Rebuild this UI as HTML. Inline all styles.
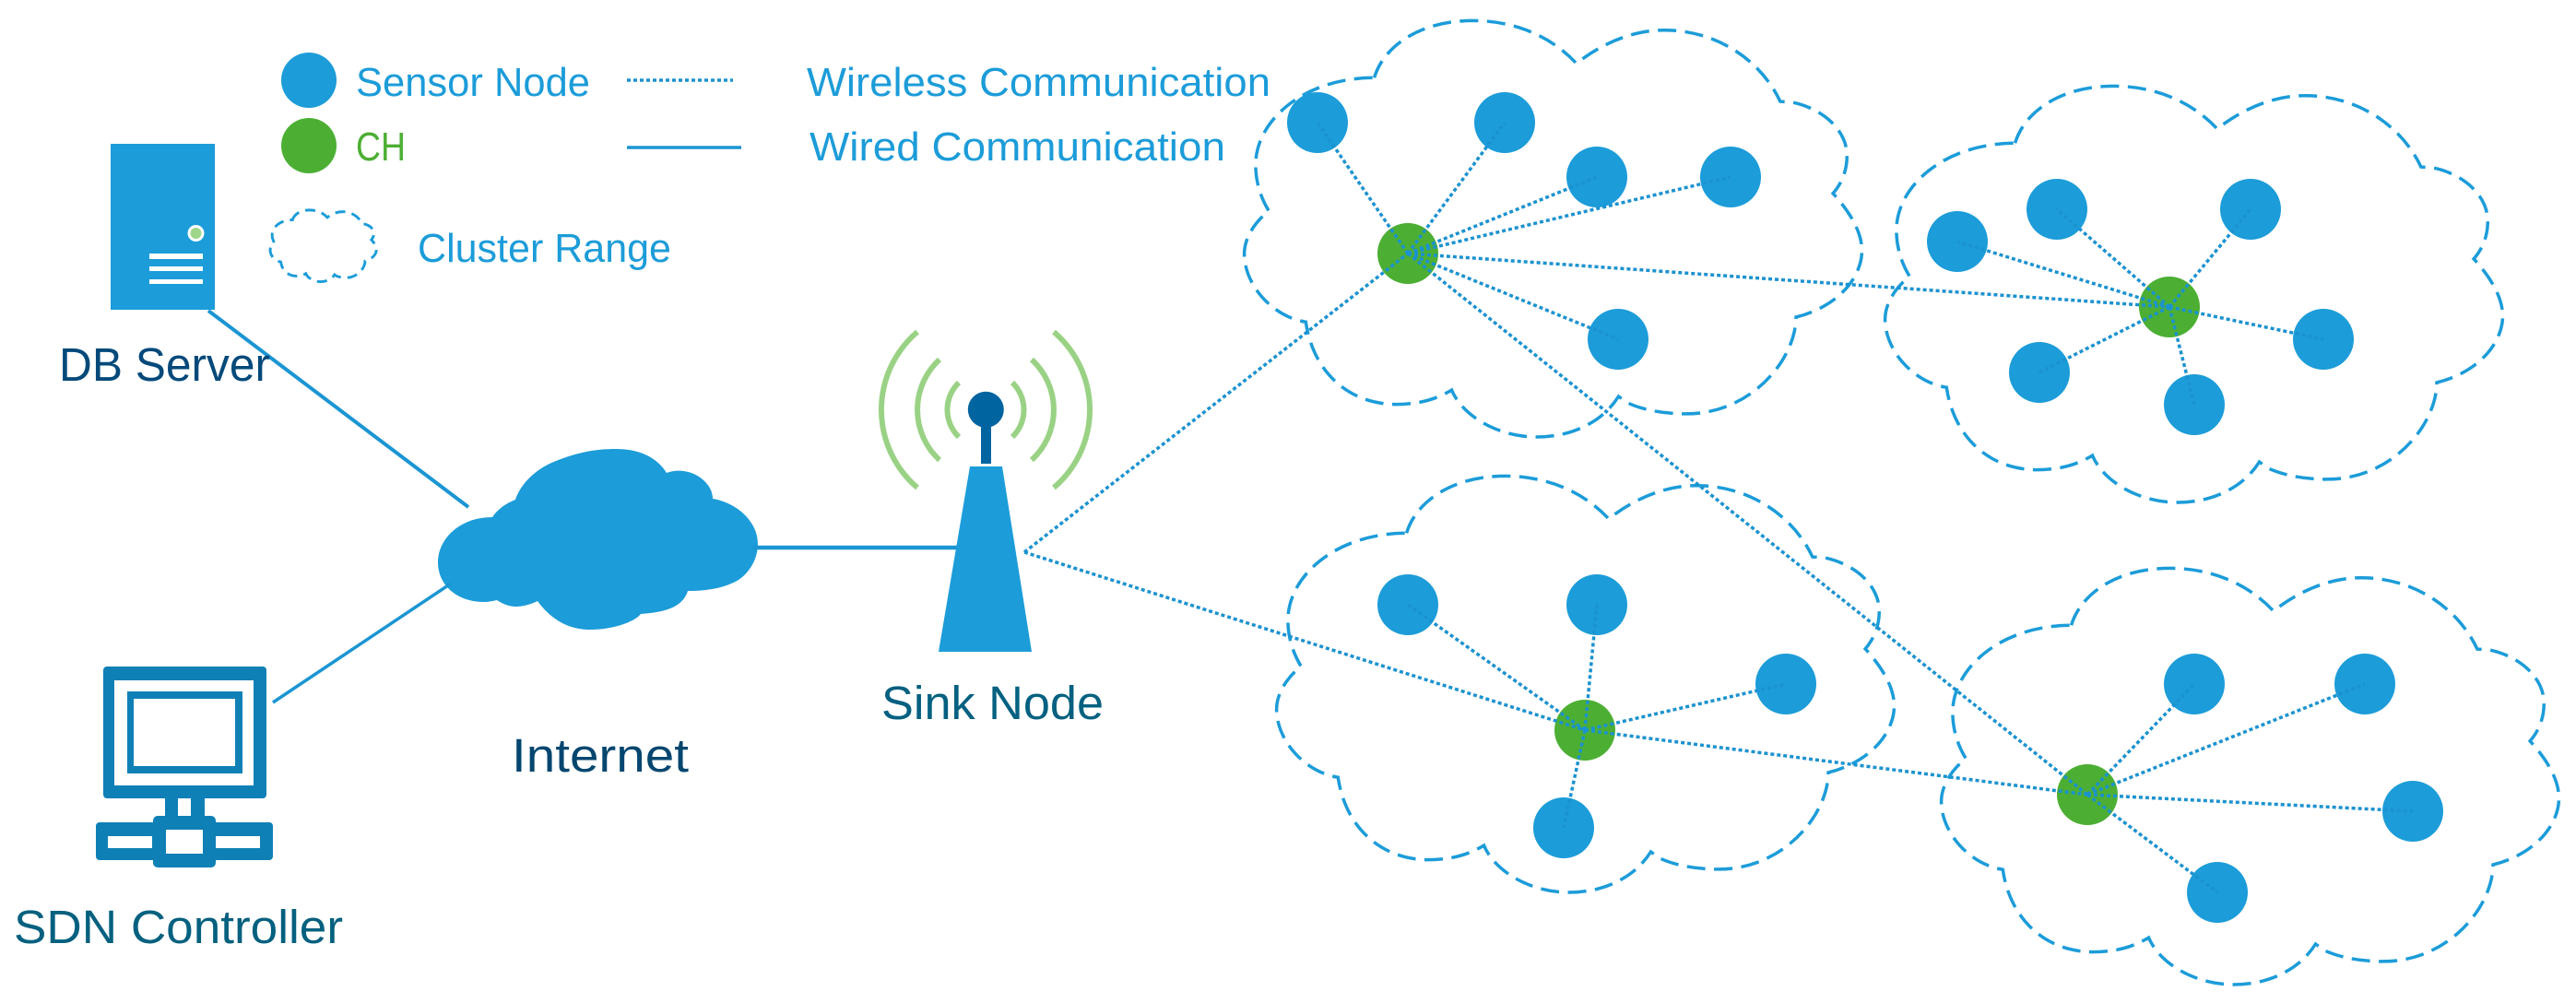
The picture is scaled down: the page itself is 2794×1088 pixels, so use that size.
<!DOCTYPE html>
<html><head><meta charset="utf-8"><style>
html,body{margin:0;padding:0;background:#fff;width:2794px;height:1088px;overflow:hidden}
svg{display:block}
text{font-family:"Liberation Sans",sans-serif;font-size:44px}
.c{fill:none;stroke:#1c9cd9;stroke-width:3.5;stroke-dasharray:20 9.5}
.s{fill:#1c9cd9}
.h{fill:#4caf33}
.d{stroke:#1b92d0;stroke-width:3.5;stroke-dasharray:4 3;fill:none}
.w{stroke:#1b95d3;fill:none}
.a{fill:none;stroke:#9ad285;stroke-width:6}
.k{font-size:51px}
</style></head><body>
<svg xmlns="http://www.w3.org/2000/svg" width="2794" height="1088" viewBox="0 0 2794 1088">
<rect width="2794" height="1088" fill="#fff"/>
<defs>
<path id="cl" d="M190.6,84.3 C200.1,51.6 238.3,22.4 297.3,22.4 C347.8,22.4 386,43 409.8,68.8 C438.4,46.4 471.7,32.7 505.1,32.7 C562.3,32.7 609.9,65.4 630.9,110.1 L643.3,110.8 C681.4,118.7 703.3,144.5 703.3,168.6 C703.3,184 698.5,197.8 688.1,209.8 C710,233.9 719.5,254.6 719.5,271.8 C719.5,299.3 695.7,332 648,344 C648,388.7 600.4,448.9 528.9,448.9 C503.2,448.9 481.3,444.4 465.1,436.9 L455.5,430 C438.4,457.5 405,474 366.9,474 C324,474 285.9,450.6 274.5,423.1 C257.3,433.4 238.3,438.6 214.4,438.6 C162,438.6 123.9,402.5 116.3,349.2 C81,344 49.6,309.6 49.6,275.2 C49.6,259.7 59.1,242.5 76.2,228.8 C66.7,213.3 61.9,196.1 61.9,178.9 C61.9,130.7 114.4,84.3 190.6,84.3 Z"/>
</defs>

<!-- clouds -->
<g transform="translate(1300,0)"><use href="#cl" class="c"/></g>
<g transform="translate(1995,71)"><use href="#cl" class="c"/></g>
<g transform="translate(1335,494)"><use href="#cl" class="c"/></g>
<g transform="translate(2056,594)"><use href="#cl" class="c"/></g>
<g transform="translate(284.5,224) scale(.172)"><use href="#cl" fill="none" stroke="#1c9cd9" stroke-width="17" stroke-dasharray="64 41"/></g>

<!-- sensor nodes -->
<g class="s">
<circle cx="1429" cy="133" r="33"/><circle cx="1632" cy="133" r="33"/><circle cx="1732" cy="192" r="33"/><circle cx="1877" cy="192" r="33"/><circle cx="1755" cy="368" r="33"/>
<circle cx="2123" cy="262" r="33"/><circle cx="2231" cy="227" r="33"/><circle cx="2441" cy="227" r="33"/><circle cx="2520" cy="368" r="33"/><circle cx="2212" cy="404" r="33"/><circle cx="2380" cy="439" r="33"/>
<circle cx="1527" cy="656" r="33"/><circle cx="1732" cy="656" r="33"/><circle cx="1937" cy="742" r="33"/><circle cx="1696" cy="898" r="33"/>
<circle cx="2380" cy="742" r="33"/><circle cx="2565" cy="742" r="33"/><circle cx="2617" cy="880" r="33"/><circle cx="2405" cy="968" r="33"/>
</g>
<g class="h">
<circle cx="1527" cy="275" r="33"/><circle cx="2353" cy="333" r="33"/><circle cx="1719" cy="792" r="33"/><circle cx="2264" cy="862" r="33"/>
</g>

<!-- wireless links -->
<g class="d">
<path d="M1527,275L1429,133M1527,275L1632,133M1527,275L1732,192M1527,275L1877,192M1527,275L1755,368"/>
<path d="M2353,333L2123,262M2353,333L2231,227M2353,333L2441,227M2353,333L2520,368M2353,333L2212,404M2353,333L2380,439"/>
<path d="M1719,792L1527,656M1719,792L1732,656M1719,792L1937,742M1719,792L1696,898"/>
<path d="M2264,862L2380,742M2264,862L2565,742M2264,862L2617,880M2264,862L2405,968"/>
<path d="M1527,275L2353,333M1719,792L2264,862M1527,275L2264,862"/>
<path d="M1111,599L1527,275M1111,599L1719,792"/>
<path d="M680,87L795,87"/>
</g>

<!-- legend circles -->
<circle class="s" cx="335" cy="87" r="30"/>
<circle class="h" cx="335" cy="158" r="30"/>

<!-- server -->
<rect class="s" x="120" y="156" width="113" height="180"/>
<circle cx="212.5" cy="253" r="9" fill="#fff"/><circle cx="212.5" cy="253" r="6" fill="#a0d68a"/>
<rect x="162" y="275" width="58" height="6" fill="#fff"/><rect x="162" y="289" width="58" height="5" fill="#fff"/><rect x="162" y="303" width="58" height="5" fill="#fff"/>

<!-- internet cloud -->
<path class="s" d="M534,561 C540,552 549,546 559,542 C565,524 582,508 603,500 C625,491 645,487 668,487 C695,487 713,497 723,513 C735,508 752,511 762,520 C769,526 773,533 773,541 C798,545 822,565 822,590 C822,610 808,628 793,633 C780,639 762,641 746,641 C743,651 735,657 727,660 C717,664 706,665 695,666 C688,675 664,683 640,683 C620,683 600,675 583,652 C575,656 566,658 560,658 C552,658 545,655 539,651 C534,652 530,653 525,653 C496,653 475,635 475,610 C475,585 498,561 534,561 Z"/>

<!-- wired links -->
<path class="w" stroke-width="3.5" d="M680,160L804,160"/>
<path class="w" stroke-width="4" d="M226,337L508,550"/>
<path class="w" stroke-width="3.5" d="M296,762L489,633"/>
<path class="w" stroke-width="4.5" d="M816,594L1039,594"/>

<!-- sink -->
<path class="a" d="M1040,415A41,41 0 0 0 1040,474M1098,415A41,41 0 0 1 1098,474"/>
<path class="a" d="M1019,390A74,74 0 0 0 1019,499M1119,390A74,74 0 0 1 1119,499"/>
<path class="a" d="M995,360A111,111 0 0 0 995,529M1143,360A111,111 0 0 1 1143,529"/>
<rect x="1064" y="450" width="11" height="53" fill="#0064a0"/>
<circle cx="1069.3" cy="444.3" r="19.5" fill="#0064a0"/>
<path class="s" d="M1052,506L1087,506L1119,707L1018,707Z"/>

<!-- SDN controller -->
<g fill="#0f80b6">
<rect x="112" y="723" width="177" height="143" rx="4"/>
<rect x="179" y="866" width="43" height="22"/>
<rect x="104" y="892" width="192" height="41" rx="4"/>
<rect x="166" y="885" width="68" height="56" rx="5"/>
</g>
<g fill="#fff">
<rect x="124" y="738" width="151" height="114"/>
<rect x="193" y="866" width="14" height="19"/>
<rect x="117" y="907" width="48" height="13"/>
<rect x="234" y="907" width="48" height="13"/>
<rect x="180" y="900" width="40" height="26"/>
</g>
<rect x="138" y="750" width="125" height="89" fill="#0f80b6"/>
<rect x="145" y="758" width="110" height="73" fill="#fff"/>

<!-- labels -->
<g fill="#1c9cd9">
<text x="386" y="104" textLength="254" lengthAdjust="spacingAndGlyphs">Sensor Node</text>
<text x="453" y="284" textLength="275" lengthAdjust="spacingAndGlyphs">Cluster Range</text>
<text x="875" y="104" textLength="503" lengthAdjust="spacingAndGlyphs">Wireless Communication</text>
<text x="878" y="174" textLength="451" lengthAdjust="spacingAndGlyphs">Wired Communication</text>
</g>
<text x="386" y="174" textLength="54" lengthAdjust="spacingAndGlyphs" fill="#4caf33">CH</text>
<text class="k" x="64" y="413" textLength="229" lengthAdjust="spacingAndGlyphs" fill="#02497a">DB Server</text>
<text class="k" x="555" y="837" textLength="192" lengthAdjust="spacingAndGlyphs" fill="#03466f">Internet</text>
<text class="k" x="956" y="780" textLength="241" lengthAdjust="spacingAndGlyphs" fill="#036080">Sink Node</text>
<text class="k" x="15" y="1023" textLength="357" lengthAdjust="spacingAndGlyphs" fill="#04607f">SDN Controller</text>
</svg>
</body></html>
